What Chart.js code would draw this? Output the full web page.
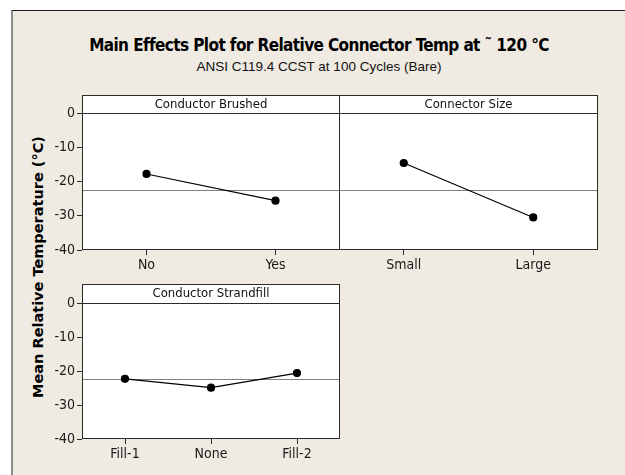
<!DOCTYPE html>
<html>
<head>
<meta charset="utf-8">
<script src="https://cdn.jsdelivr.net/npm/chart.js@4.4.0/dist/chart.umd.min.js"></script>
<style>
  body { margin: 0; background: #fff; }
  #page { position: relative; width: 625px; height: 475px; overflow: hidden; background: #fff; }
  #frame { position: absolute; left: 11px; top: 10px; width: 616px; height: 470px;
           background: #efebe2; border-top: 1px solid #1a1a1a; border-left: 2px solid #8c8c8c; }
  canvas { position: absolute; left: 0; top: 0; }
  .title { position: absolute; left: 13px; width: 612px; text-align: center; color: #000; white-space: nowrap; }
  #t1 { top: 35px; font: bold 17px "DejaVu Sans Condensed", "DejaVu Sans", sans-serif; letter-spacing: -0.6px; }
  #t2 { top: 59px; font: 13.5px "Liberation Sans", sans-serif; color: #111; }
  #ytitle { position: absolute; left: 38px; top: 267px; transform: translate(-50%, -50%) rotate(-90deg);
            font: bold 14.5px "DejaVu Sans", sans-serif; white-space: nowrap; color: #000; }
</style>
</head>
<body>
<div id="page">
  <div id="frame"></div>
  <div class="title" id="t1">Main Effects Plot for Relative Connector Temp at ˜ 120 °C</div>
  <div class="title" id="t2">ANSI C119.4 CCST at 100 Cycles (Bare)</div>
  <div id="ytitle">Mean Relative Temperature (°C)</div>
  <canvas id="c1" width="625" height="475"></canvas>
  <canvas id="c2" width="625" height="475"></canvas>
  <canvas id="c3" width="625" height="475"></canvas>
</div>
<script>
// values
const brushedLabels = ['No', 'Yes'];
const brushedMeans = [-17.8, -25.6];
const sizeLabels = ['Small', 'Large'];
const sizeMeans = [-14.6, -30.5];
const strandLabels = ['Fill-1', 'None', 'Fill-2'];
const strandMeans = [-22.3, -24.9, -20.6];
const grandMean = -22.4;
const yMin = -40, yMax = 0, yStep = 10;

const W = 625, H = 475;
const Y_W = 60, X_H = 30;
const tickFont = { family: '"DejaVu Sans Condensed", "DejaVu Sans", sans-serif', size: 14 };

// white plot area, grand mean line, box and header strip
const panelBox = {
    id: 'panelBox',
    beforeDraw(chart, args, opts) {
        const { ctx, chartArea: a } = chart;
        ctx.save();
        ctx.fillStyle = '#fff';
        ctx.fillRect(a.left, a.top - opts.header, a.right - a.left, a.bottom - a.top + opts.header);
        const y = Math.round(chart.scales.y.getPixelForValue(grandMean)) + 0.5;
        ctx.strokeStyle = '#808080';
        ctx.lineWidth = 1;
        ctx.beginPath();
        ctx.moveTo(a.left, y);
        ctx.lineTo(a.right, y);
        ctx.stroke();
        ctx.restore();
    },
    afterDraw(chart, args, opts) {
        const { ctx, chartArea: a } = chart;
        ctx.save();
        ctx.strokeStyle = '#2b2b2b';
        ctx.lineWidth = 1;
        ctx.strokeRect(a.left + 0.5, a.top - opts.header + 0.5, a.right - a.left - 1, a.bottom - a.top + opts.header - 1);
        ctx.beginPath();
        ctx.moveTo(a.left, a.top + 0.5);
        ctx.lineTo(a.right, a.top + 0.5);
        ctx.stroke();
        ctx.fillStyle = '#111';
        ctx.font = '13px "DejaVu Sans Condensed", "DejaVu Sans", sans-serif';
        ctx.textAlign = 'center';
        ctx.textBaseline = 'middle';
        ctx.fillText(opts.text, (a.left + a.right) / 2, a.top - opts.header / 2 + 0.5);
        ctx.restore();
    }
};

function makePanel(id, box, labels, values, heading, header, showY) {
    const yLeft = showY ? box.left - Y_W : box.left;
    return new Chart(document.getElementById(id), {
        type: 'line',
        data: {
            labels: labels,
            datasets: [{
                data: values,
                borderColor: '#000',
                borderWidth: 1.2,
                pointRadius: 3.5,
                pointBackgroundColor: '#000',
                pointBorderColor: '#000',
                tension: 0
            }]
        },
        options: {
            responsive: false,
            animation: false,
            layout: {
                padding: { left: yLeft, top: box.top, right: W - box.right, bottom: H - box.bottom - X_H }
            },
            scales: {
                x: {
                    type: 'category',
                    offset: true,
                    border: { display: false },
                    grid: { drawOnChartArea: false, drawTicks: true, tickLength: 5, color: '#2b2b2b' },
                    ticks: { font: tickFont, color: '#1a1a1a', padding: 2, maxRotation: 0 },
                    afterFit(scale) { scale.height = X_H; }
                },
                y: {
                    display: showY,
                    min: yMin,
                    max: yMax,
                    border: { display: false },
                    grid: { drawOnChartArea: false, drawTicks: true, tickLength: 5, color: '#2b2b2b' },
                    ticks: { stepSize: yStep, font: tickFont, color: '#1a1a1a', padding: 2 },
                    afterFit(scale) { if (showY) scale.width = Y_W; }
                }
            },
            plugins: {
                legend: { display: false },
                tooltip: { enabled: false },
                panelBox: { text: heading, header: header }
            }
        },
        plugins: [panelBox]
    });
}

makePanel('c1', { left: 82, right: 340, top: 113, bottom: 250 }, brushedLabels, brushedMeans, 'Conductor Brushed', 18, true);
makePanel('c2', { left: 339, right: 598, top: 113, bottom: 250 }, sizeLabels, sizeMeans, 'Connector Size', 18, false);
makePanel('c3', { left: 82, right: 340, top: 303, bottom: 439 }, strandLabels, strandMeans, 'Conductor Strandfill', 19, true);
</script>
</body>
</html>
